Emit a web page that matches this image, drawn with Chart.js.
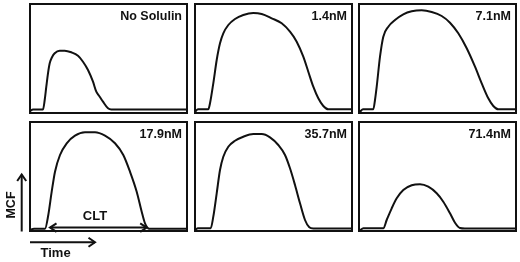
<!DOCTYPE html>
<html><head><meta charset="utf-8">
<script src="https://cdn.jsdelivr.net/npm/chart.js@4/dist/chart.umd.min.js"></script>
<style>
html,body{margin:0;padding:0;background:#fff;}
#wrap{position:relative;width:520px;height:262px;overflow:hidden;font-family:"Liberation Sans",Arial,sans-serif;font-weight:bold;color:#111;}
canvas{position:absolute;}
.lbl{position:absolute;font-size:12.5px;line-height:normal;text-align:right;white-space:nowrap;}
.ann{position:absolute;font-size:13px;line-height:normal;white-space:nowrap;}
</style></head><body><div id="wrap"></div>
<script>
// ---- data (time in arbitrary units, MCF in arbitrary units) ----
const panelLabels = ['No Solulin', '1.4nM', '7.1nM', '17.9nM', '35.7nM', '71.4nM'];

const noSolulinTime = [0, 3, 13, 14.7, 16.3, 18, 19.7, 22, 24.7, 29.7, 34.7, 41.3, 48, 53, 58, 63, 66.3, 69.7, 73, 78, 81.3, 157];
const noSolulinMcf  = [2, 3.5, 3.5, 13, 26.3, 39.7, 49.7, 55.7, 59.7, 62.3, 62.3, 60.7, 57.3, 51.3, 43, 31.3, 21.3, 16.3, 11.3, 4.7, 3.5, 3.5];

const nM1_4Time = [0, 3, 13.3, 15, 18.3, 21.7, 25, 28.3, 33.3, 40, 48.3, 58.3, 66.7, 76.7, 86.7, 95, 101.7, 108.3, 113.3, 118.3, 123.3, 128.3, 133.3, 157];
const nM1_4Mcf  = [1.3, 3.7, 3.7, 9.7, 29.7, 53, 69.7, 79.7, 88, 94, 98, 100, 99, 94.7, 89.7, 81.3, 71.3, 56.3, 41.3, 26.3, 14.7, 7, 3.7, 3.7];

const nM7_1Time = [1, 4, 14.3, 16, 17.7, 21, 24.3, 29.3, 36, 44.3, 52.7, 62.7, 72.7, 82.7, 91, 99.3, 107.7, 116, 122.7, 129.3, 134.3, 139.3, 157];
const nM7_1Mcf  = [1.3, 3.7, 3.7, 13, 26.3, 56.3, 76.3, 86.3, 93, 98.7, 101.7, 102.7, 101, 97, 90.3, 79.7, 64.7, 46.3, 29.7, 14.7, 7, 3.7, 3.7];

const nM17_9Time = [0, 4, 15, 18.3, 21.7, 25, 30, 36.7, 45, 55, 65, 75, 85, 93.3, 100, 106.7, 111.7, 115, 119.3, 157];
const nM17_9Mcf  = [1, 2.3, 2.3, 16, 39.3, 59.3, 76, 87.7, 95.3, 98.7, 98.7, 95.3, 87.7, 76, 59.3, 39.3, 19.3, 7.7, 2.3, 2.3];

const nM35_7Time = [0, 3, 15.7, 18.3, 21.7, 25, 28.3, 33.3, 40, 48.3, 58.3, 66.7, 75, 83.3, 90, 95, 100, 105, 110, 114.3, 118.3, 157];
const nM35_7Mcf  = [1, 2.7, 2.7, 14.3, 37.7, 61, 74.3, 84.3, 90.3, 94.3, 97, 97, 93.7, 86, 76, 62.7, 46, 27.7, 11, 3.7, 2.5, 2.5];

const nM71_4Time = [1, 4.3, 24.3, 27.7, 32.7, 37.7, 44.3, 52.7, 61, 69.3, 77.7, 84.3, 91, 96, 101, 106, 157];
const nM71_4Mcf  = [0.5, 2.7, 2.7, 11, 22.7, 32.7, 41, 45.7, 46.7, 44.3, 37.7, 29.3, 17.7, 8.3, 3, 2.5, 2.5];

// clot lysis time marker on the 17.9nM panel
const cltStart = 20, cltEnd = 116.7, cltLevel = 3.4;

const seriesTime = [noSolulinTime, nM1_4Time, nM7_1Time, nM17_9Time, nM35_7Time, nM71_4Time];
const seriesMcf  = [noSolulinMcf, nM1_4Mcf, nM7_1Mcf, nM17_9Mcf, nM35_7Mcf, nM71_4Mcf];

// ---- layout ----
const W = 157, H = 109;
const panelPos = [[30,4],[195,4],[359,4],[30,122],[195,122],[359,122]];
const wrap = document.getElementById('wrap');
const INK = '#111';

const framePlugin = {
  id: 'frame',
  beforeDatasetsDraw(chart) {
    const a = chart.chartArea, ctx = chart.ctx;
    ctx.save();
    ctx.strokeStyle = INK; ctx.lineWidth = 2;
    ctx.strokeRect(a.left, a.top, a.right - a.left, a.bottom - a.top);
    ctx.restore();
  }
};

function head(ctx, tx, ty, dx, dy, len, hw) {
  const px = -dy, py = dx;
  ctx.beginPath();
  ctx.moveTo(tx - dx*len + px*hw, ty - dy*len + py*hw);
  ctx.lineTo(tx, ty);
  ctx.lineTo(tx - dx*len - px*hw, ty - dy*len - py*hw);
  ctx.stroke();
}
function seg(ctx, x1, y1, x2, y2) {
  ctx.beginPath(); ctx.moveTo(x1, y1); ctx.lineTo(x2, y2); ctx.stroke();
}

const arrowPlugin = {
  id: 'arrows',
  afterDatasetsDraw(chart) {
    const ctx = chart.ctx, a = chart.chartArea, xs = chart.scales.x, ys = chart.scales.y;
    ctx.save();
    ctx.strokeStyle = INK; ctx.lineWidth = 2; ctx.lineJoin = 'miter';
    // CLT double arrow
    const cy = ys.getPixelForValue(cltLevel);
    const x1 = xs.getPixelForValue(cltStart), x2 = xs.getPixelForValue(cltEnd);
    seg(ctx, x1, cy, x2, cy);
    head(ctx, x1, cy, -1, 0, 6.5, 4.2);
    head(ctx, x2, cy, 1, 0, 6.5, 4.2);
    // MCF axis arrow
    const mx = a.left - 8.3;
    seg(ctx, mx, a.bottom + 0.5, mx, a.bottom - 56.5);
    head(ctx, mx, a.bottom - 56.5, 0, -1, 6.5, 4.5);
    // Time axis arrow
    const ty = a.bottom + 11.3;
    seg(ctx, a.left, ty, a.left + 65, ty);
    head(ctx, a.left + 65, ty, 1, 0, 6.5, 4.5);
    ctx.restore();
  }
};

panelPos.forEach((p, i) => {
  const pad = (i === 3) ? {left: 30, top: 2, right: 2, bottom: 31} : {left: 2, top: 2, right: 2, bottom: 2};
  const cv = document.createElement('canvas');
  const cw = W + pad.left + pad.right, ch = H + pad.top + pad.bottom;
  cv.width = cw; cv.height = ch;
  cv.style.left = (p[0] - pad.left) + 'px';
  cv.style.top = (p[1] - pad.top) + 'px';
  cv.style.width = cw + 'px'; cv.style.height = ch + 'px';
  wrap.appendChild(cv);

  const pts = seriesTime[i].map((t, k) => ({x: t, y: seriesMcf[i][k]}));
  new Chart(cv.getContext('2d'), {
    type: 'line',
    data: { datasets: [{ data: pts, borderColor: INK, borderWidth: 2, pointRadius: 0, fill: false, cubicInterpolationMode: 'monotone' }] },
    options: {
      responsive: false, animation: false, events: [],
      layout: { padding: pad },
      plugins: { legend: { display: false }, tooltip: { enabled: false }, title: { display: false } },
      scales: {
        x: { type: 'linear', min: 0, max: 157, display: false },
        y: { type: 'linear', min: 0, max: 109, display: false }
      }
    },
    plugins: (i === 3) ? [framePlugin, arrowPlugin] : [framePlugin]
  });

  const lb = document.createElement('div');
  lb.className = 'lbl';
  lb.textContent = panelLabels[i];
  lb.style.left = p[0] + 'px';
  lb.style.width = (W - 5) + 'px';
  lb.style.top = (p[1] + 4.6) + 'px';
  wrap.appendChild(lb);
});

// annotation texts
function ann(text, css) {
  const d = document.createElement('div');
  d.className = 'ann'; d.textContent = text;
  Object.assign(d.style, css);
  wrap.appendChild(d);
}
ann('CLT', {left: '95px', top: '208.4px', transform: 'translateX(-50%)'});
ann('Time', {left: '40.5px', top: '244.9px'});
ann('MCF', {left: '10.5px', top: '205px', fontSize: '12.5px', transform: 'translate(-50%,-50%) rotate(-90deg)'});
</script>
</body></html>
